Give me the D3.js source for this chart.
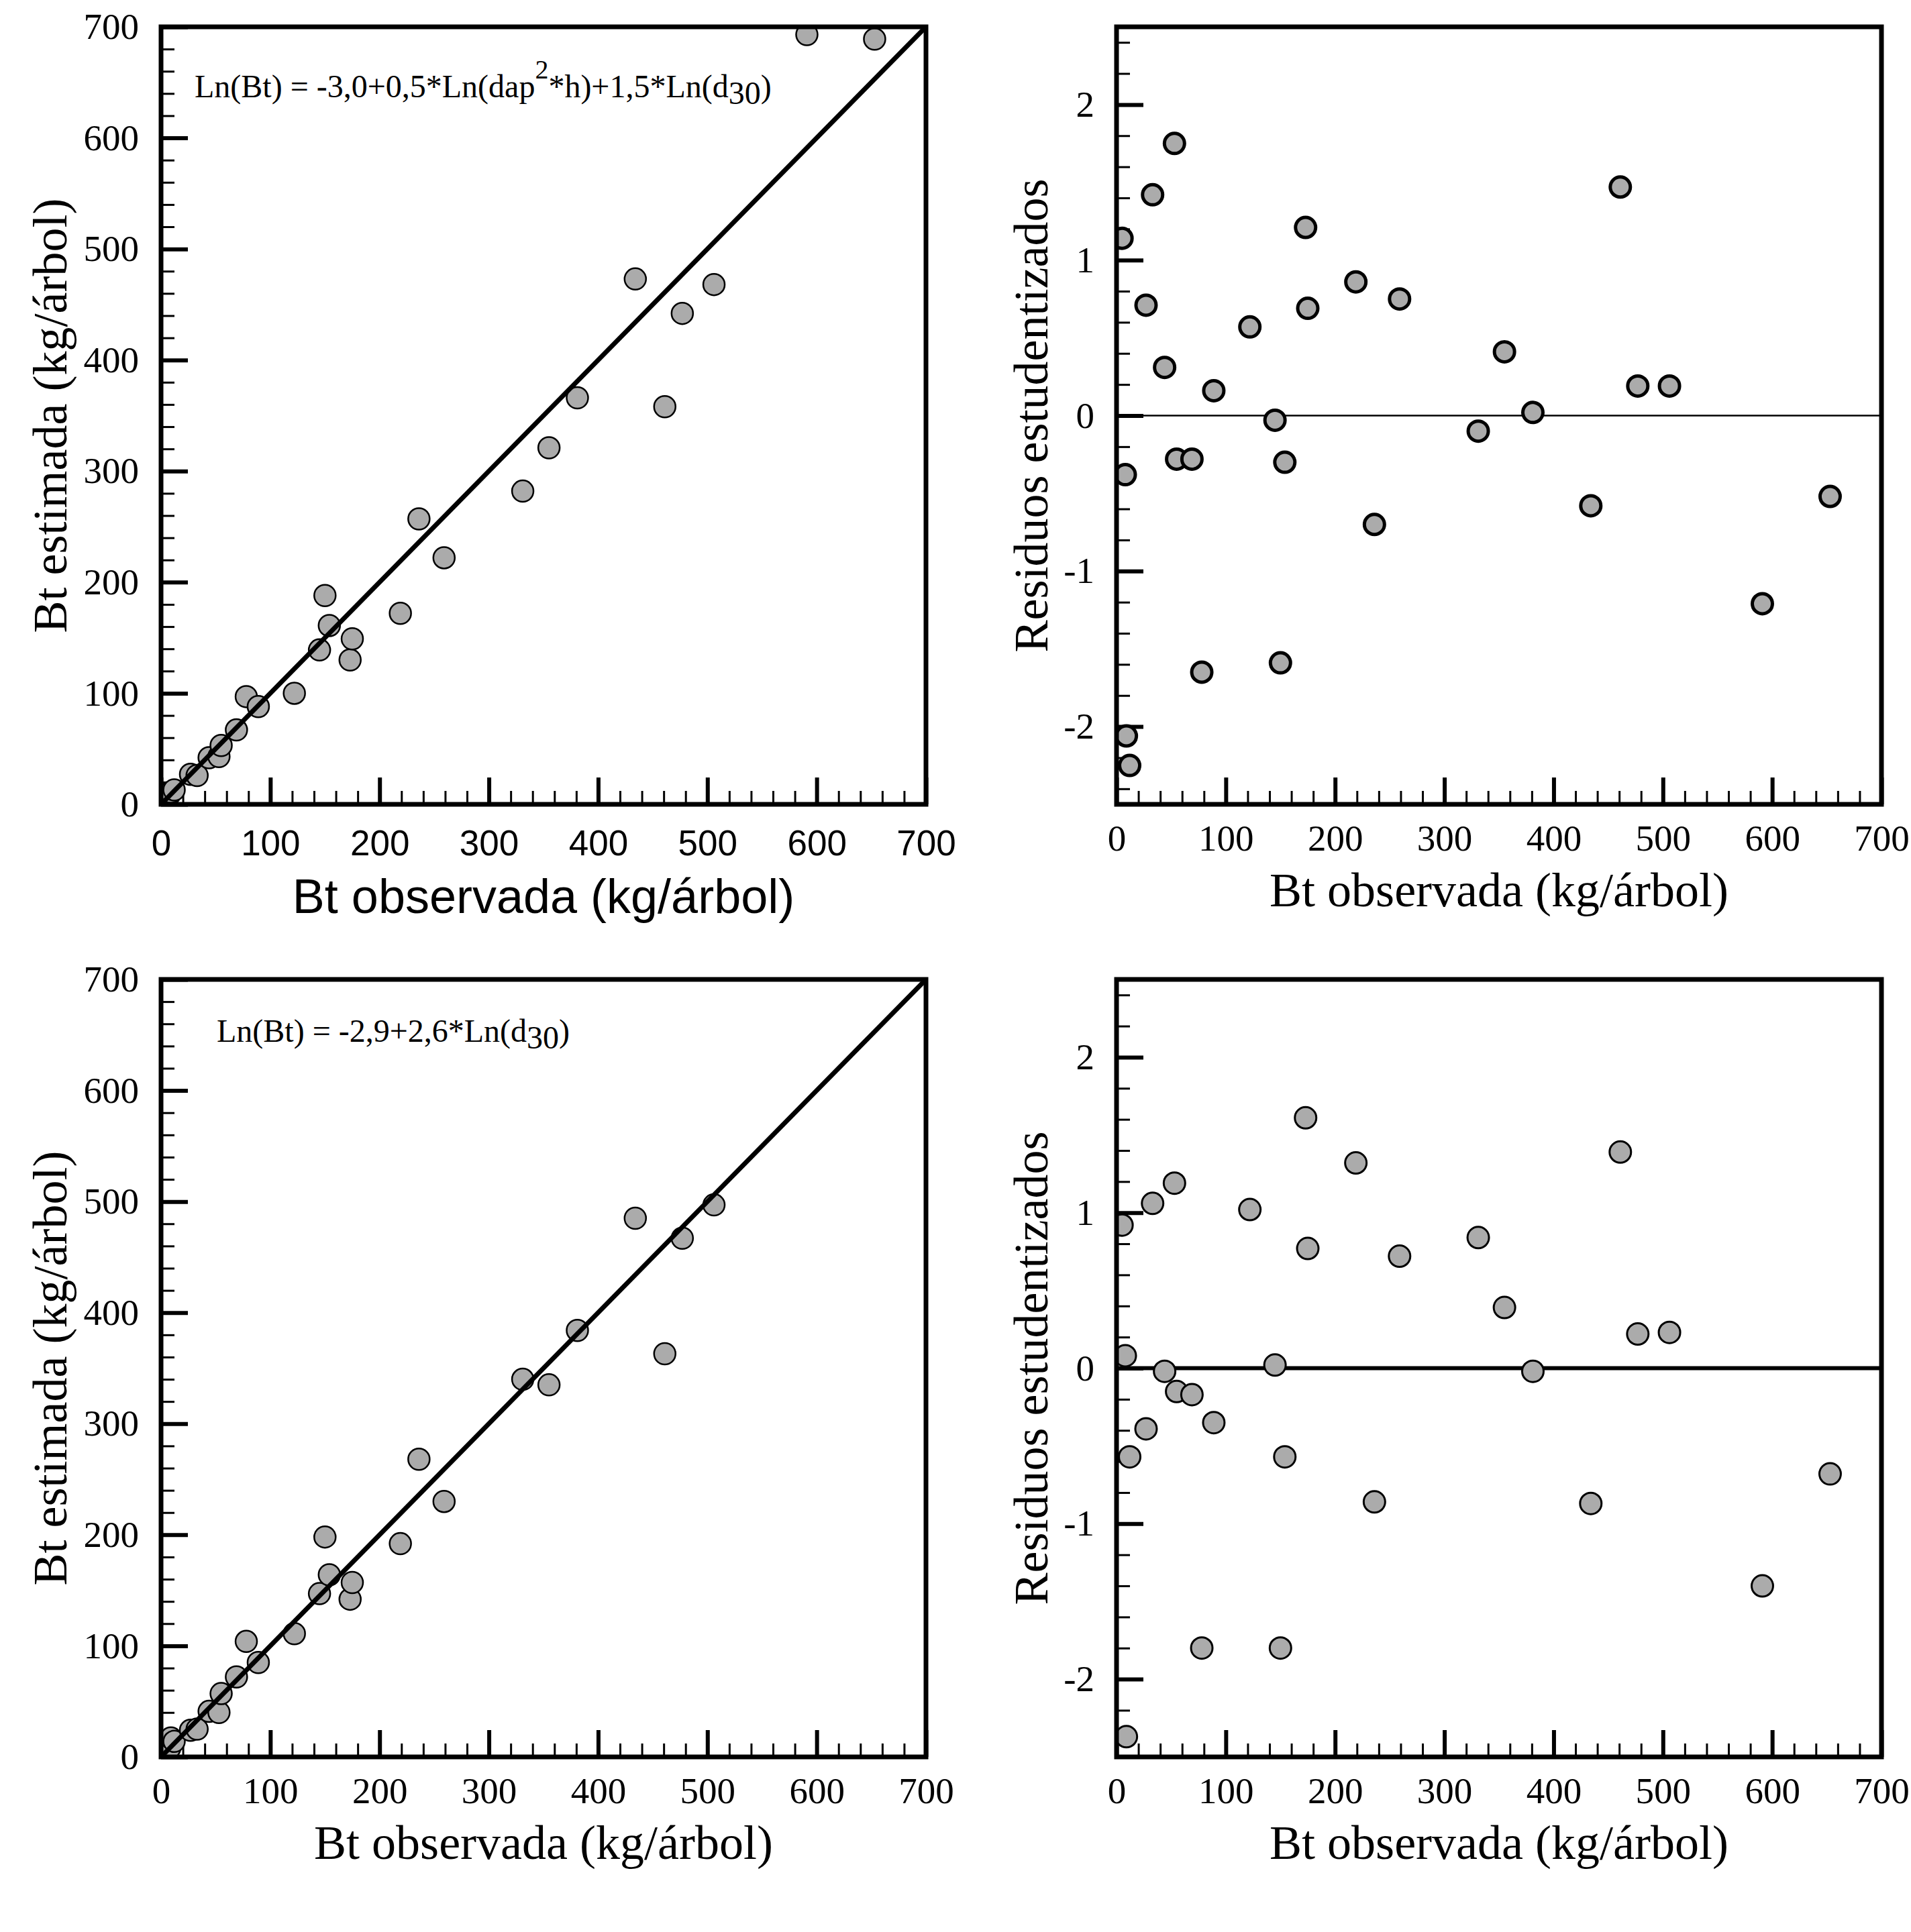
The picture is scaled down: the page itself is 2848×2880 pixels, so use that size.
<!DOCTYPE html>
<html>
<head>
<meta charset="utf-8">
<script src="https://cdn.jsdelivr.net/npm/d3@7"></script>
<style>
  body { margin: 0; background: #fff; }
</style>
</head>
<body>
<div id="chart"></div>
<script>
// Biomasa total observada (kg/árbol), común a los cuatro paneles
const observed = [5, 8, 9, 12, 27, 33, 44, 53, 55, 69, 78, 89, 122, 145, 150, 154, 173, 175,
                  219, 236, 259, 331, 355, 381, 434, 461, 477, 506, 591, 653];

// Modelo 1: Ln(Bt) = -3,0+0,5*Ln(dap^2*h)+1,5*Ln(d30)
const estimated1 = [4, 9, 11, 13, 27, 26, 42, 43, 53, 67, 97, 88, 100, 139, 188, 161, 130, 149,
                    172, 257, 222, 282, 321, 366, 473, 358, 442, 468, 693, 689];
const residuals1 = [1.14, -0.38, -2.06, -2.25, 0.71, 1.42, 0.31, 1.75, -0.28, -0.28, -1.65, 0.16,
                    0.57, -0.03, -1.59, -0.30, 1.21, 0.69, 0.86, -0.70, 0.75, -0.10, 0.41, 0.02,
                    -0.58, 1.47, 0.19, 0.19, -1.21, -0.52];

// Modelo 2: Ln(Bt) = -2,9+2,6*Ln(d30)  (the two largest trees fall above 700, off the chart)
const estimated2 = [4, 8, 17, 14, 24, 25, 41, 40, 57, 72, 104, 85, 111, 147, 198, 164, 142, 157,
                    192, 268, 230, 340, 335, 384, 485, 363, 467, 497, null, null];
const residuals2 = [0.92, 0.08, -2.37, -0.57, -0.39, 1.06, -0.02, 1.19, -0.15, -0.17, -1.80, -0.35,
                    1.02, 0.02, -1.80, -0.57, 1.61, 0.77, 1.32, -0.86, 0.72, 0.84, 0.39, -0.02,
                    -0.87, 1.39, 0.22, 0.23, -1.40, -0.68];

const bioTicks = [0, 100, 200, 300, 400, 500, 600, 700];
const residTicks = [-2, -1, 0, 1, 2];

const W = 1140, H = 1159;
const SERIF = "'Liberation Serif', 'Times New Roman', serif";
const SANS = "'Liberation Sans', Arial, Helvetica, sans-serif";

const svg = d3.select("#chart")
    .append("svg")
    .attr("width", 2848)
    .attr("height", 2880)
    .style("background", "#fff");

function drawPanel(p) {
    const x = d3.scaleLinear().domain([0, 700]).range([p.left, p.left + W]);
    const y = d3.scaleLinear().domain(p.yDomain).range([p.top + H, p.top]);
    const g = svg.append("g");

    svg.append("clipPath").attr("id", "clip" + p.id)
        .append("rect")
        .attr("x", p.left).attr("y", p.top)
        .attr("width", W).attr("height", H);

    // minor and major ticks, pointing inwards
    const xMinor = d3.range(0, 701, 20);
    const yMinor = p.yMinor;

    function styleAxis(sel, width) {
        sel.select(".domain").remove();
        sel.selectAll("line").attr("stroke", "#000").attr("stroke-width", width);
    }

    g.append("g")
        .attr("transform", `translate(0,${p.top + H})`)
        .call(d3.axisBottom(x).tickValues(xMinor).tickSize(-20).tickFormat(""))
        .call(s => styleAxis(s, 3));
    g.append("g")
        .attr("transform", `translate(${p.left},0)`)
        .call(d3.axisLeft(y).tickValues(yMinor).tickSize(-20).tickFormat(""))
        .call(s => styleAxis(s, 3));

    const xAxis = g.append("g")
        .attr("transform", `translate(0,${p.top + H})`)
        .call(d3.axisBottom(x).tickValues(bioTicks).tickSize(-40)
            .tickPadding(p.xSans ? 38 : 30).tickFormat(d => String(d)))
        .call(s => styleAxis(s, 6));
    xAxis.selectAll("text")
        .attr("font-family", p.xSans ? SANS : SERIF)
        .attr("font-size", p.xSans ? 53 : 55)
        .attr("fill", "#000");

    const yAxis = g.append("g")
        .attr("transform", `translate(${p.left},0)`)
        .call(d3.axisLeft(y).tickValues(p.yTicks).tickSize(-40)
            .tickPadding(33).tickFormat(d => String(d)))
        .call(s => styleAxis(s, 6));
    yAxis.selectAll("text")
        .attr("font-family", SERIF)
        .attr("font-size", 55)
        .attr("fill", "#000");

    const pts = observed
        .map((o, i) => ({ o: o, v: p.values[i] }))
        .filter(d => d.v !== null);

    const refLine = () => {
        if (p.kind === "fit") {
            g.append("line")
                .attr("x1", x(0)).attr("y1", y(0))
                .attr("x2", x(700)).attr("y2", y(700))
                .attr("stroke", "#000").attr("stroke-width", 7);
        } else {
            g.append("line")
                .attr("x1", x(0)).attr("y1", y(0))
                .attr("x2", x(700)).attr("y2", y(0))
                .attr("stroke", "#000").attr("stroke-width", p.zeroWidth);
        }
    };

    if (p.kind !== "fit") refLine();

    g.append("g")
        .attr("clip-path", `url(#clip${p.id})`)
        .selectAll("circle")
        .data(pts)
        .enter().append("circle")
        .attr("cx", d => x(d.o))
        .attr("cy", d => y(d.v))
        .attr("r", p.r)
        .attr("fill", "#ababab")
        .attr("stroke", "#000")
        .attr("stroke-width", p.dotStroke);

    if (p.kind === "fit") refLine();

    // frame
    g.append("rect")
        .attr("x", p.left).attr("y", p.top)
        .attr("width", W).attr("height", H)
        .attr("fill", "none")
        .attr("stroke", "#000")
        .attr("stroke-width", 7);

    // axis titles
    g.append("text")
        .attr("x", p.left + W / 2)
        .attr("y", p.top + H + (p.xSans ? 162 : 152))
        .attr("text-anchor", "middle")
        .attr("font-family", p.xSans ? SANS : SERIF)
        .attr("font-size", 72)
        .text("Bt observada (kg/árbol)");

    g.append("text")
        .attr("transform", `translate(${p.left - (p.kind === "fit" ? 141 : 103)},${p.top + H / 2}) rotate(-90)`)
        .attr("text-anchor", "middle")
        .attr("font-family", SERIF)
        .attr("font-size", 72)
        .text(p.yTitle);

    if (p.equation) {
        const t = g.append("text")
            .attr("x", p.left + p.equation.dx)
            .attr("y", p.top + p.equation.dy)
            .attr("font-family", SERIF)
            .attr("font-size", 48);
        p.equation.parts.forEach(part => {
            t.append("tspan")
                .attr("dy", part.shift || 0)
                .attr("font-size", part.size || 48)
                .text(part.text);
        });
    }
}

const fitTitle = "Bt estimada (kg/árbol)";
const resTitle = "Residuos estudentizados";

drawPanel({
    id: 1, kind: "fit", left: 240, top: 40,
    yDomain: [0, 700], yTicks: bioTicks, yMinor: d3.range(0, 701, 20),
    values: estimated1, r: 16, dotStroke: 2.5, xSans: true, yTitle: fitTitle,
    equation: {
        dx: 50, dy: 105,
        parts: [
            { text: "Ln(Bt) = -3,0+0,5*Ln(dap" },
            { text: "2", size: 40, shift: -28 },
            { text: "*h)+1,5*Ln(d", shift: 28 },
            { text: "30", shift: 10 },
            { text: ")", shift: -10 }
        ]
    }
});

drawPanel({
    id: 2, kind: "res", left: 1664, top: 40,
    yDomain: [-2.5, 2.5], yTicks: residTicks, yMinor: d3.range(-24, 25, 2).map(d => d / 10),
    values: residuals1, r: 15, dotStroke: 5, zeroWidth: 2.5, yTitle: resTitle
});

drawPanel({
    id: 3, kind: "fit", left: 240, top: 1460,
    yDomain: [0, 700], yTicks: bioTicks, yMinor: d3.range(0, 701, 20),
    values: estimated2, r: 16, dotStroke: 2.5, yTitle: fitTitle,
    equation: {
        dx: 83, dy: 93,
        parts: [
            { text: "Ln(Bt) = -2,9+2,6*Ln(d" },
            { text: "30", shift: 10 },
            { text: ")", shift: -10 }
        ]
    }
});

drawPanel({
    id: 4, kind: "res", left: 1664, top: 1460,
    yDomain: [-2.5, 2.5], yTicks: residTicks, yMinor: d3.range(-24, 25, 2).map(d => d / 10),
    values: residuals2, r: 16, dotStroke: 3, zeroWidth: 6, yTitle: resTitle
});
</script>
</body>
</html>
